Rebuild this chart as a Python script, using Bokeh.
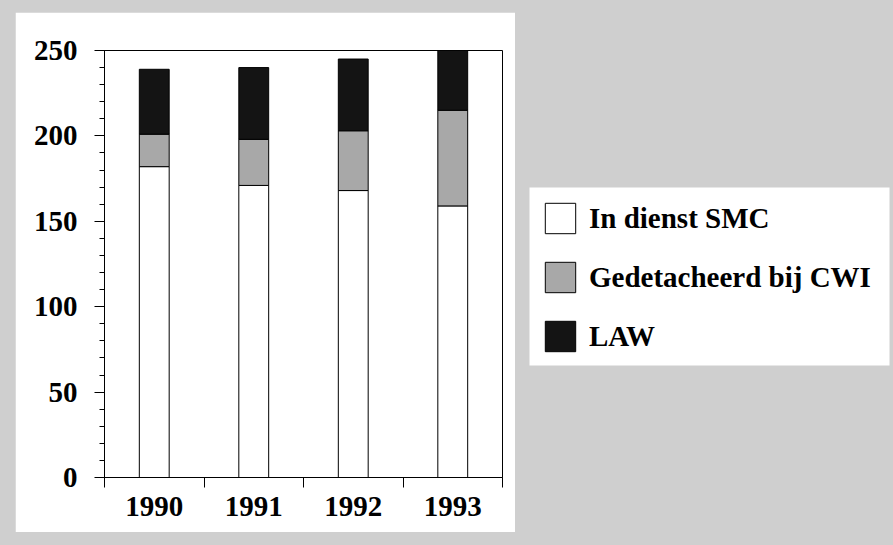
from bokeh.plotting import figure
from bokeh.layouts import row
from bokeh.models import (FixedTicker, Legend, LegendItem, ColumnDataSource, Range1d,
                          BoxAnnotation)
from bokeh.embed import file_html
from bokeh.resources import INLINE

# ---- data ----
years = ["1990", "1991", "1992", "1993"]
series_names = ["In dienst SMC", "Gedetacheerd bij CWI", "LAW"]
smc = [182, 171, 168, 159]
cwi = [19, 27, 35, 56]
law = [38, 42, 42, 35]
y_ticks = [0, 50, 100, 150, 200, 250]

FONT = "Liberation Serif"
BG = "#cfcfcf"
COLORS = ["white", "#a8a8a8", "#141414"]

xpos = [i + 0.5 for i in range(len(years))]
src = ColumnDataSource(dict(x=xpos, smc=smc, cwi=cwi, law=law))

# ---- chart (white panel) ----
p = figure(width=500, height=520, x_range=Range1d(0, len(years)),
           y_range=Range1d(0, 250), output_backend="svg", toolbar_location=None,
           min_border_left=89, min_border_right=13, min_border_top=38,
           min_border_bottom=55, margin=(12, 0, 0, 15))
p.border_fill_color = "white"
p.background_fill_color = "white"
p.outline_line_color = "black"
p.outline_line_width = 1
p.xgrid.visible = False
p.ygrid.visible = False

p.vbar_stack(["smc", "cwi", "law"], x="x", width=0.3, source=src,
             fill_color=COLORS, line_color="black", line_width=1)

yax = p.yaxis[0]
yax.ticker = FixedTicker(ticks=y_ticks, minor_ticks=list(range(0, 251, 10)))
yax.major_tick_out = 10
yax.major_tick_in = 0
yax.minor_tick_out = 5
yax.minor_tick_in = 0
yax.major_label_standoff = 17
yax.major_label_text_font = FONT
yax.major_label_text_font_style = "bold"
yax.major_label_text_font_size = "29px"
yax.major_label_text_color = "black"
yax.axis_line_color = "black"

xax = p.xaxis[0]
xax.ticker = FixedTicker(ticks=xpos, minor_ticks=list(range(0, len(years) + 1)))
xax.major_label_overrides = {x: y for x, y in zip(xpos, years)}
xax.major_tick_out = 0
xax.major_tick_in = 0
xax.minor_tick_out = 10
xax.minor_tick_in = 0
xax.major_label_standoff = 9
xax.major_label_text_font = FONT
xax.major_label_text_font_style = "bold"
xax.major_label_text_font_size = "29px"
xax.major_label_text_color = "black"
xax.axis_line_color = "black"

# ---- legend panel (proxy bars sit outside its visible range) ----
q = figure(width=378, height=545, x_range=Range1d(-3, -2), y_range=Range1d(0, 1),
           output_backend="svg", toolbar_location=None,
           x_axis_type=None, y_axis_type=None,
           min_border_left=0, min_border_right=0, min_border_top=0,
           min_border_bottom=0)
q.border_fill_color = BG
q.background_fill_color = BG
q.outline_line_color = None
q.xgrid.visible = False
q.ygrid.visible = False

# white legend card
q.add_layout(BoxAnnotation(left=14, right=374, bottom=125, top=303,
                           left_units="screen", right_units="screen",
                           top_units="screen", bottom_units="screen",
                           fill_color="white", fill_alpha=1, line_color=None,
                           level="underlay"))

lrs = q.vbar_stack(["smc", "cwi", "law"], x="x", width=0.3, source=src,
                   fill_color=COLORS, line_color="black", line_width=1)

legend = Legend(items=[LegendItem(label=n, renderers=[r]) for n, r in zip(series_names, lrs)],
                location=(26, 135), orientation="vertical",
                glyph_width=38, glyph_height=38, label_height=38,
                label_standoff=10, spacing=21, padding=11, margin=0,
                label_text_font=FONT, label_text_font_style="bold",
                label_text_font_size="29px", label_text_color="black",
                background_fill_alpha=0, border_line_color=None)
q.add_layout(legend)

layout = row(p, q, spacing=0)

html = file_html(layout, INLINE)
css = "<style>html, body { background-color: %s !important; }</style></head>" % BG
html = html.replace("</head>", css, 1)
open("out.html", "w").write(html)
